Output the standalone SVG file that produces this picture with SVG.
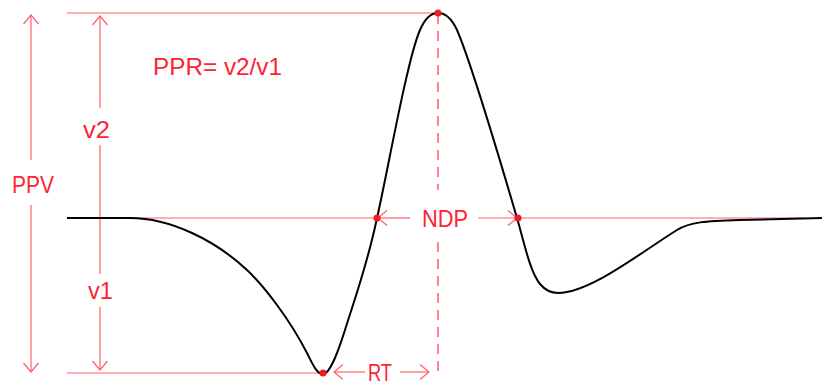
<svg xmlns="http://www.w3.org/2000/svg" width="825" height="385" viewBox="0 0 825 385">
<style>
.ln{fill:none;stroke:#ff5f66;stroke-width:1.2}
.dash{fill:none;stroke:#ff5f66;stroke-width:1.5;stroke-dasharray:10,7}
.lbl{font-family:"Liberation Sans",Arial,sans-serif;font-size:24px;fill:#ff2233}
.dot{fill:#ee1c24}
.curve{fill:none;stroke:#000;stroke-width:2;stroke-linejoin:round}
</style>
<defs>
<marker id="ah" viewBox="0 0 12 16" refX="11" refY="8" markerWidth="12" markerHeight="16" markerUnits="userSpaceOnUse" orient="auto">
<path d="M2,0.5 L11,8 L2,15.5" fill="none" stroke="#ff5f66" stroke-width="1.2"/>
</marker>
</defs>
<rect width="825" height="385" fill="#fff"/>
<g id="connectors">
<path class="ln" d="M67,13 H438"/>
<path class="ln" d="M67,373 H323"/>
<path class="ln" d="M130,218 H377"/>
<path class="ln" d="M518,218 H803"/>
<path class="ln" d="M410,218 H378" marker-end="url(#ah)"/>
<path class="ln" d="M478,218 H517" marker-end="url(#ah)"/>
<path class="ln" d="M31,160 V15" marker-end="url(#ah)"/>
<path class="ln" d="M31,205 V372" marker-end="url(#ah)"/>
<path class="ln" d="M100,108 V16" marker-end="url(#ah)"/>
<path class="ln" d="M100,145 V274"/>
<path class="ln" d="M100,307 V370" marker-end="url(#ah)"/>
<path class="ln" d="M365,372 H334" marker-end="url(#ah)"/>
<path class="ln" d="M400,372 H429" marker-end="url(#ah)"/>
<path class="dash" d="M438,14 V190"/>
<path class="dash" d="M438,242 V378"/>
</g>
<g id="waveform">
<path class="curve" d="M67,218 L130,218 C170,218 215,240 247,270 C265,287 290,320 307,353 C313,365 317,374 323,374 C330,374 338,352 345,330 C356,295 368,262 377,218 C388,170 407,60 420,30 C426,16 432,13 438,13 C444,13 451,17 457,30 C470,60 500,160 517,218 C524,242 530,272 540,284 C545,290 550,293 558,293 C590,293 640,253 677,230 C690,222 705,221 740,220 L822,218"/>
</g>
<g id="points">
<circle class="dot" cx="438" cy="13" r="3.5"/>
<circle class="dot" cx="377" cy="218" r="3.5"/>
<circle class="dot" cx="518" cy="218" r="3.5"/>
<circle class="dot" cx="323" cy="373" r="3.5"/>
</g>
<g id="labels">
<text class="lbl" x="153" y="75" textLength="129" lengthAdjust="spacingAndGlyphs">PPR= v2/v1</text>
<text class="lbl" x="12" y="193" textLength="42" lengthAdjust="spacingAndGlyphs">PPV</text>
<text class="lbl" x="83" y="138" textLength="27" lengthAdjust="spacingAndGlyphs">v2</text>
<text class="lbl" x="88" y="299" textLength="25" lengthAdjust="spacingAndGlyphs">v1</text>
<text class="lbl" x="422" y="227" textLength="46" lengthAdjust="spacingAndGlyphs">NDP</text>
<text class="lbl" x="368" y="381" textLength="24" lengthAdjust="spacingAndGlyphs">RT</text>
</g>
</svg>
